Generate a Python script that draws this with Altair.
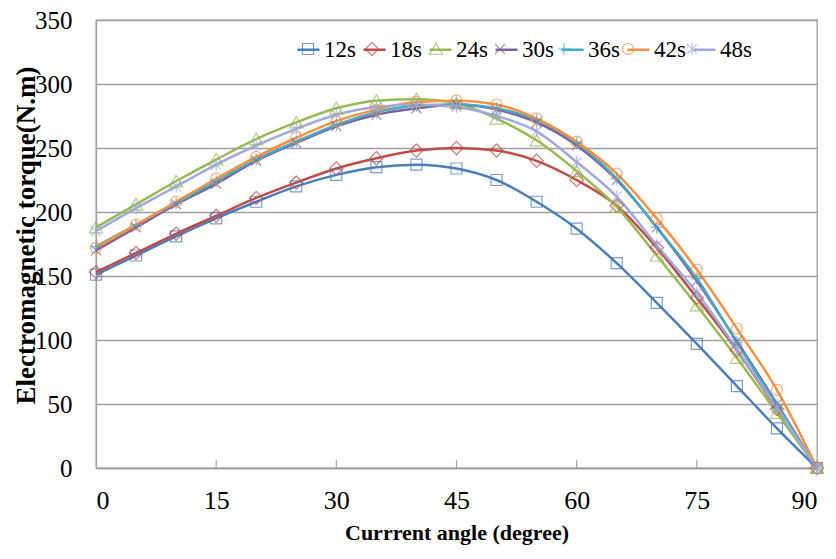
import altair as alt
import pandas as pd

# ---- data ----
angles = list(range(0, 95, 5))
series_names = ["12s", "18s", "24s", "30s", "36s", "42s", "48s"]
s12 = [151, 166, 181, 195, 208, 220, 229, 235, 237, 234, 225, 208, 187, 160, 129, 97, 64, 31, 0]
s18 = [153, 168, 183, 197, 211, 223, 234, 242, 248, 250, 248, 240, 225, 205, 172, 133, 92, 46, 0]
s24 = [188, 206, 224, 241, 257, 270, 281, 287, 288, 285, 273, 256, 232, 204, 166, 127, 86, 43, 0]
s30 = [170, 188, 206, 222, 240, 254, 267, 276, 281, 284, 280, 270, 252, 225, 188, 146, 99, 50, 0]
s36 = [173, 190, 207, 224, 241, 255, 268, 278, 283, 284, 281, 272, 254, 226, 188, 148, 98, 49, 0]
s42 = [172, 190, 208, 226, 243, 258, 271, 280, 286, 287, 284, 273, 255, 230, 195, 155, 109, 61, 0]
s48 = [185, 203, 220, 237, 252, 265, 276, 282, 284, 282, 275, 263, 239, 212, 174, 137, 93, 47, 0]
all_series = [s12, s18, s24, s30, s36, s42, s48]

x_ticks = [0, 15, 30, 45, 60, 75, 90]
inner_ticks = [15, 30, 45, 60, 75]
y_ticks = [0, 50, 100, 150, 200, 250, 300, 350]

colors = ["#4A7EBB", "#BE4B48", "#98B954", "#7D60A0", "#46AAC5", "#F69240", "#9FA9DC"]
# marker outlines; the leading moves only widen the symbol bounds so that
# the marker legend lines up with the line-sample legend
EXT = "M-1.06,0M1.06,0"
shape_paths = [
    EXT + "M-0.5,-0.5L0.5,-0.5L0.5,0.5L-0.5,0.5Z",
    EXT + "M0,-0.6L0.6,0L0,0.6L-0.6,0Z",
    EXT + "M0,-0.55L0.6,0.5L-0.6,0.5Z",
    EXT + "M-0.45,-0.45L0.45,0.45M-0.45,0.45L0.45,-0.45",
    EXT + "M-0.55,0L0.55,0M0,-0.55L0,0.55",
    EXT + "M0.5,0A0.5,0.5 0 1,1 -0.5,0A0.5,0.5 0 1,1 0.5,0Z",
    EXT + "M-0.45,-0.45L0.45,0.45M-0.45,0.45L0.45,-0.45M0,-0.55L0,0.55",
]

rows = []
for name, vals in zip(series_names, all_series):
    for a, v in zip(angles, vals):
        rows.append({"angle": a, "torque": v, "series": name, "pseries": "p" + name})
df = pd.DataFrame(rows)
ticks_df = pd.DataFrame({"angle": inner_ticks})

FONT = "Liberation Serif, Times New Roman, serif"
GRAY = "#A0A0A0"

x_enc = alt.X(
    "angle:Q",
    scale=alt.Scale(domain=[0, 90], nice=False, zero=False),
    axis=alt.Axis(
        values=x_ticks, title="Currrent angle (degree)", grid=False, ticks=False,
        domainColor=GRAY, domainWidth=1.3, labelFont=FONT, labelFontSize=26,
        labelColor="black", labelPadding=19, titleFont=FONT, titleFontSize=22,
        titleFontWeight="bold", titleColor="black", titlePadding=9,
    ),
)
y_enc = alt.Y(
    "torque:Q",
    scale=alt.Scale(domain=[0, 350], nice=False),
    axis=alt.Axis(
        values=y_ticks, title="Electromagnetic torque(N.m)", grid=True,
        gridColor=GRAY, gridWidth=1.3, ticks=False, domainColor=GRAY,
        domainWidth=1.3, labelFont=FONT, labelFontSize=25, labelColor="black",
        labelPadding=24, titleFont=FONT, titleFontSize=27, titleFontWeight="bold",
        titleColor="black", titleX=-70, titleY=215, titleAlign="center",
        titleBaseline="middle", titleAngle=270,
    ),
)

legend_common = dict(
    orient="none", legendX=200, legendY=17, direction="horizontal", title=None,
    symbolSize=484, labelFont=FONT, labelFontSize=23, labelOffset=3,
    columnPadding=2,
)

lines = alt.Chart(df).mark_line(interpolate="monotone", strokeWidth=2.5).encode(
    x=x_enc,
    y=y_enc,
    stroke=alt.Stroke(
        "series:N",
        scale=alt.Scale(domain=series_names, range=colors),
        legend=alt.Legend(symbolType="stroke", symbolStrokeWidth=2.5,
                          labelColor="black", **legend_common),
    ),
)

p_domain = ["p" + s for s in series_names]
points = alt.Chart(df).mark_point(filled=False, size=484, strokeWidth=1.2, opacity=0.75).encode(
    x="angle:Q",
    y="torque:Q",
    color=alt.Color(
        "pseries:N",
        scale=alt.Scale(domain=p_domain, range=colors),
        legend=alt.Legend(labelColor="rgba(0,0,0,0)", symbolStrokeWidth=1.2,
                          labelExpr="substring(datum.label, 1)", **legend_common),
    ),
    shape=alt.Shape(
        "pseries:N",
        scale=alt.Scale(domain=p_domain, range=shape_paths),
        legend=alt.Legend(labelColor="rgba(0,0,0,0)", symbolStrokeWidth=1.2,
                          labelExpr="substring(datum.label, 1)", **legend_common),
    ),
)

tick_rules = alt.Chart(ticks_df).mark_rule(color=GRAY, strokeWidth=1.2).encode(
    x="angle:Q", y=alt.datum(0), y2=alt.datum(6)
)

chart = (
    alt.layer(lines, points, tick_rules)
    .properties(
        width=721, height=448,
        autosize=alt.AutoSizeParams(type="none"),
        padding={"left": 88, "top": 12, "right": 11, "bottom": 83},
        background="white",
    )
    .configure(font=FONT)
    .configure_axis(labelFont=FONT, titleFont=FONT)
    .configure_legend(labelFont=FONT)
    .configure_view(stroke=GRAY, strokeWidth=1.3)
)

chart.save("out.html", embed_options={"renderer": "svg", "actions": False})
